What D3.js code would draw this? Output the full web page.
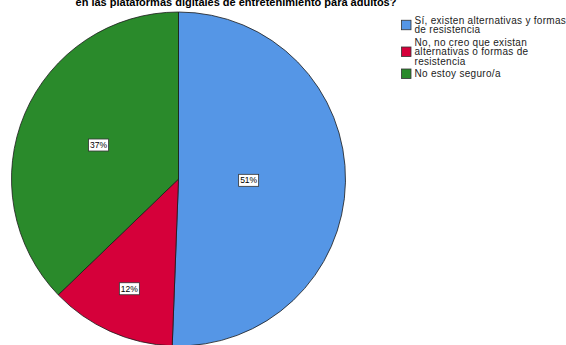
<!DOCTYPE html>
<html>
<head>
<meta charset="utf-8">
<script src="https://cdn.jsdelivr.net/npm/d3@7"></script>
<style>
  body { margin: 0; background: #fff; }
  svg { display: block; }
</style>
</head>
<body>
<svg id="chart" width="566" height="345"></svg>
<script>
// Chart data
const categories = [
    ['Sí, existen alternativas y formas', 'de resistencia'],
    ['No, no creo que existan', 'alternativas o formas de', 'resistencia'],
    ['No estoy seguro/a']
];
const values = [50.6, 12.2, 37.2];
const valueLabels = ['51%', '12%', '37%'];
const colors = ['#5596e6', '#d5003a', '#2a8a2b'];
// label distance from centre, as a fraction of the radius
const labelRadius = [0.42, 0.72, 0.52];

const svg = d3.select('#chart');
const font = 'Liberation Sans, Arial, sans-serif';

// Title (only its last line falls inside the frame)
svg.append('text')
    .attr('x', 236)
    .attr('y', 6)
    .attr('text-anchor', 'middle')
    .attr('font-family', font)
    .attr('font-size', '11px')
    .attr('font-weight', 'bold')
    .attr('fill', '#000')
    .text('en las plataformas digitales de entretenimiento para adultos?');

const cx = 178.5, cy = 179, radius = 167;

const pie = d3.pie().sort(null).value(d => d);
const arcs = pie(values);
const arc = d3.arc().innerRadius(0).outerRadius(radius);

const pieGroup = svg.append('g')
    .attr('transform', `translate(${cx}, ${cy})`);

pieGroup.selectAll('.slice')
    .data(arcs)
    .enter()
    .append('path')
    .attr('class', 'slice')
    .attr('d', arc)
    .attr('fill', (d, i) => colors[i])
    .attr('stroke', '#1a1a1a')
    .attr('stroke-width', 0.8);

// Percentage labels in white boxes
const labels = pieGroup.selectAll('.pct')
    .data(arcs)
    .enter()
    .append('g')
    .attr('class', 'pct')
    .attr('transform', (d, i) => {
        const a = (d.startAngle + d.endAngle) / 2;
        const r = radius * labelRadius[i];
        return `translate(${Math.sin(a) * r}, ${-Math.cos(a) * r})`;
    });

labels.append('rect')
    .attr('x', -10)
    .attr('y', -6)
    .attr('width', 20)
    .attr('height', 12)
    .attr('fill', '#fff')
    .attr('stroke', '#333')
    .attr('stroke-width', 0.8);

labels.append('text')
    .attr('text-anchor', 'middle')
    .attr('dy', '0.35em')
    .attr('font-family', font)
    .attr('font-size', '8.5px')
    .attr('fill', '#000')
    .text((d, i) => valueLabels[i]);

// Legend
const legend = svg.append('g')
    .attr('transform', 'translate(401, 20)');

const lineH = 9.5;
let yOff = 0;
categories.forEach((lines, i) => {
    const g = legend.append('g').attr('transform', `translate(0, ${yOff})`);
    const mid = (lines.length - 1) / 2 * lineH;
    g.append('rect')
        .attr('x', 0.5)
        .attr('y', mid - 4.5)
        .attr('width', 9.5)
        .attr('height', 9.5)
        .attr('fill', colors[i])
        .attr('stroke', '#333')
        .attr('stroke-width', 0.8);
    g.selectAll('text')
        .data(lines)
        .enter()
        .append('text')
        .attr('x', 13.5)
        .attr('y', (d, j) => j * lineH + 3.5)
        .attr('font-family', font)
        .attr('font-size', '10px')
        .attr('letter-spacing', '0.3px')
        .attr('fill', '#222')
        .text(d => d);
    yOff += lines.length * lineH + 3;
});
</script>
</body>
</html>
